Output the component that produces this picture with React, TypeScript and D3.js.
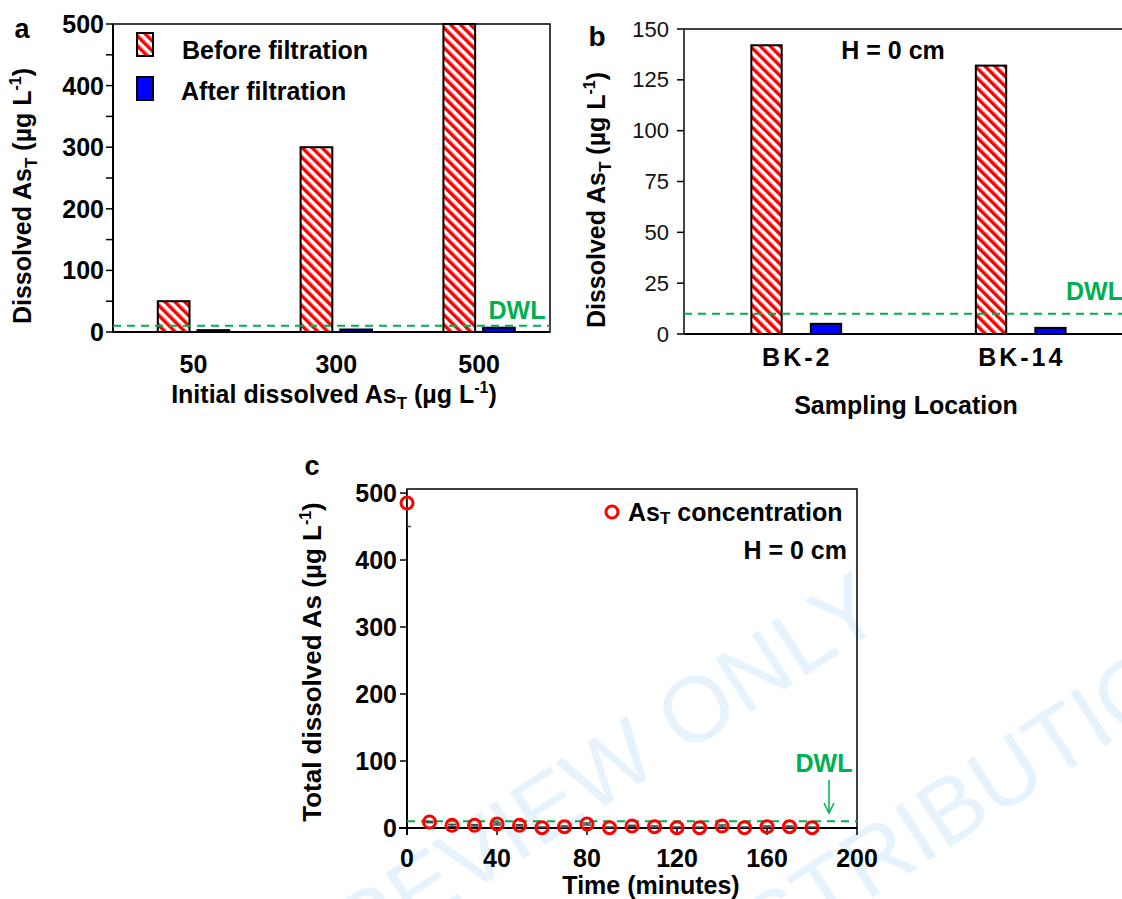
import * as d3 from 'd3';

// panel a
const aCategories = ['50', '300', '500'];
const aBefore = [50, 300, 500];
const aAfter = [3, 4, 7];
const aTicks = [0, 100, 200, 300, 400, 500];
const aMinor = [50, 150, 250, 350, 450];

// panel b
const bCategories = ['BK-2', 'BK-14'];
const bBefore = [142, 132];
const bAfter = [5, 3];
const bTicks = [0, 25, 50, 75, 100, 125, 150];

// panel c
const cTime = [0, 10, 20, 30, 40, 50, 60, 70, 80, 90, 100, 110, 120, 130, 140, 150, 160, 170, 180];
const cConc = [485, 9, 4, 4, 6, 4, 0.5, 2, 6, 0.5, 3, 2, 0.5, 0.5, 3, 0.5, 2, 2, 0.5];
const cErr = [35, 1, 1.5, 1, 1.5, 1, 1, 1, 1.5, 1, 1, 1, 1, 1, 1.5, 1, 1, 1, 1];
const cYTicks = [0, 100, 200, 300, 400, 500];
const cXTicks = [0, 40, 80, 120, 160, 200];

const DWL = 10;

const FONT = '"Liberation Sans", Arial, sans-serif';
const RED = '#ff0000';
const BLUE = '#0000ff';
const GREEN = '#00b050';
const FS = 25;

function Unit() {
  return (
    <>
      <tspan> (µg L</tspan>
      <tspan dy={-10} fontSize={16}>-1</tspan>
      <tspan dy={10}>)</tspan>
    </>
  );
}

function AsT() {
  return (
    <>
      <tspan>As</tspan>
      <tspan dy={6} fontSize={17}>T</tspan>
      <tspan dy={-6}> (µg L</tspan>
      <tspan dy={-10} fontSize={16}>-1</tspan>
      <tspan dy={10}>)</tspan>
    </>
  );
}

function PanelA() {
  const x0 = d3.scaleBand().domain(aCategories).range([113, 550]).paddingInner(0.5).paddingOuter(0.28).align(0.56);
  const x1 = d3.scaleBand().domain(['before', 'after']).range([0, x0.bandwidth()]).paddingInner(0.2);
  const y = d3.scaleLinear().domain([0, 500]).range([332, 24]);
  return (
    <g>
      {aCategories.map((c, i) => (
        <g key={c} transform={`translate(${x0(c)},0)`}>
          <rect x={x1('before')} y={y(aBefore[i])} width={x1.bandwidth()} height={y(0) - y(aBefore[i])}
            fill="url(#hatch)" stroke="#000" strokeWidth={2} />
          <rect x={x1('after')} y={y(aAfter[i])} width={x1.bandwidth()} height={y(0) - y(aAfter[i])}
            fill={BLUE} stroke="#000" strokeWidth={2} />
        </g>
      ))}
      <rect x={113} y={24} width={437} height={308} fill="none" stroke="#000" strokeWidth={1.5} />
      <line x1={113} x2={550} y1={y(0)} y2={y(0)} stroke="#000" strokeWidth={2} />
      <line x1={113} x2={113} y1={24} y2={332} stroke="#000" strokeWidth={2} />
      <line x1={113} x2={550} y1={y(DWL)} y2={y(DWL)} stroke={GREEN} strokeWidth={2} strokeDasharray="8,6" />
      <text x={517} y={310} fill={GREEN} fontSize={FS} fontWeight="bold" textAnchor="middle" dominantBaseline="central">DWL</text>
      {aTicks.concat(aMinor).map((t) => (
        <line key={t} x1={106} x2={113} y1={y(t)} y2={y(t)} stroke="#000" strokeWidth={1.5} />
      ))}
      {aTicks.map((t) => (
        <text key={t} x={104} y={y(t)} textAnchor="end" dominantBaseline="central" fontSize={FS} fontWeight="bold">{t}</text>
      ))}
      {aCategories.map((c) => (
        <text key={c} x={(x0(c) as number) + x0.bandwidth() / 2} y={364} textAnchor="middle" dominantBaseline="central"
          fontSize={FS} fontWeight="bold">{c}</text>
      ))}
      <text x={334} y={403} textAnchor="middle" fontSize={FS} fontWeight="bold">
        <tspan>Initial dissolved </tspan>
        <AsT />
      </text>
      <text transform="translate(31,196) rotate(-90)" textAnchor="middle" fontSize={FS} fontWeight="bold">
        <tspan>Dissolved </tspan>
        <AsT />
      </text>
      <text x={22} y={29} textAnchor="middle" dominantBaseline="central" fontSize={27} fontWeight="bold">a</text>
      {/* legend */}
      <rect x={137} y={33} width={16} height={23} fill="url(#hatch)" stroke="#000" strokeWidth={2} />
      <rect x={137} y={77} width={16} height={23} fill={BLUE} stroke="#000" strokeWidth={2} />
      <text x={182} y={50} dominantBaseline="central" fontSize={FS} fontWeight="bold">Before filtration</text>
      <text x={181} y={91} dominantBaseline="central" fontSize={FS} fontWeight="bold">After filtration</text>
    </g>
  );
}

function PanelB() {
  const x0 = d3.scaleBand().domain(bCategories).range([684, 1133]).paddingInner(0.6).paddingOuter(0.3);
  const x1 = d3.scaleBand().domain(['before', 'after']).range([0, x0.bandwidth()]).paddingInner(0.49);
  const y = d3.scaleLinear().domain([0, 150]).range([334, 29]);
  return (
    <g>
      {bCategories.map((c, i) => (
        <g key={c} transform={`translate(${x0(c)},0)`}>
          <rect x={x1('before')} y={y(bBefore[i])} width={x1.bandwidth()} height={y(0) - y(bBefore[i])}
            fill="url(#hatch)" stroke="#000" strokeWidth={2} />
          <rect x={x1('after')} y={y(bAfter[i])} width={x1.bandwidth()} height={y(0) - y(bAfter[i])}
            fill={BLUE} stroke="#000" strokeWidth={2} />
        </g>
      ))}
      <line x1={684} x2={1122} y1={y(150)} y2={y(150)} stroke="#000" strokeWidth={1.5} />
      <line x1={684} x2={1122} y1={y(0)} y2={y(0)} stroke="#000" strokeWidth={2} />
      <line x1={684} x2={684} y1={y(150)} y2={y(0)} stroke="#444" strokeWidth={2} />
      <line x1={684} x2={1122} y1={y(DWL)} y2={y(DWL)} stroke={GREEN} strokeWidth={2} strokeDasharray="8,6" />
      <text x={1066} y={291} fill={GREEN} fontSize={FS} fontWeight="bold" dominantBaseline="central">DWL</text>
      {bTicks.map((t) => (
        <g key={t}>
          <line x1={677} x2={684} y1={y(t)} y2={y(t)} stroke="#000" strokeWidth={1.5} />
          <text x={669} y={y(t)} textAnchor="end" dominantBaseline="central" fontSize={22} fill="#111">{t}</text>
        </g>
      ))}
      {bCategories.map((c) => (
        <text key={c} x={(x0(c) as number) + x0.bandwidth() / 2 + 1} y={357} textAnchor="middle" dominantBaseline="central"
          fontSize={FS} fontWeight="bold" letterSpacing={3}>{c}</text>
      ))}
      <text x={906} y={405} textAnchor="middle" dominantBaseline="central" fontSize={FS} fontWeight="bold">Sampling Location</text>
      <text transform="translate(605,200) rotate(-90)" textAnchor="middle" fontSize={FS} fontWeight="bold">
        <tspan>Dissolved </tspan>
        <AsT />
      </text>
      <text x={893} y={50} textAnchor="middle" dominantBaseline="central" fontSize={FS} fontWeight="bold">H = 0 cm</text>
      <text x={597} y={36} textAnchor="middle" dominantBaseline="central" fontSize={28} fontWeight="bold">b</text>
    </g>
  );
}

function PanelC() {
  const x = d3.scaleLinear().domain([0, 200]).range([407, 857]);
  const y = d3.scaleLinear().domain([0, 506]).range([828, 489]);
  return (
    <g>
      <defs>
        <clipPath id="clipC">
          <rect x={x(0)} y={y(506)} width={x(200) - x(0)} height={y(0) - y(506)} />
        </clipPath>
      </defs>
      <rect x={x(0)} y={y(506)} width={x(200) - x(0)} height={y(0) - y(506)} fill="none" stroke="#000" strokeWidth={1.5} />
      <line x1={x(0) - 8} x2={x(200)} y1={y(0)} y2={y(0)} stroke="#000" strokeWidth={2} />
      <line x1={x(0)} x2={x(0)} y1={y(506)} y2={y(0) + 7} stroke="#000" strokeWidth={2} />
      {cYTicks.map((t) => (
        <g key={t}>
          <line x1={x(0) - 7} x2={x(0)} y1={y(t)} y2={y(t)} stroke="#000" strokeWidth={1.5} />
          <text x={x(0) - 10} y={y(t)} textAnchor="end" dominantBaseline="central" fontSize={FS} fontWeight="bold">{t}</text>
        </g>
      ))}
      {cXTicks.map((t) => (
        <g key={t}>
          <line x1={x(t)} x2={x(t)} y1={y(0)} y2={y(0) + 7} stroke="#000" strokeWidth={1.5} />
          <text x={x(t)} y={858} textAnchor="middle" dominantBaseline="central" fontSize={FS} fontWeight="bold">{t}</text>
        </g>
      ))}
      <line x1={x(0)} x2={x(200)} y1={y(DWL)} y2={y(DWL)} stroke={GREEN} strokeWidth={2} strokeDasharray="8,6" />
      <g clipPath="url(#clipC)">
        {cTime.map((t, i) => (
          <g key={t} stroke="#444" strokeWidth={1.5}>
            <line x1={x(t)} x2={x(t)} y1={y(cConc[i] - cErr[i])} y2={y(cConc[i] + cErr[i])} />
            <line x1={x(t) - 4} x2={x(t) + 4} y1={y(cConc[i] - cErr[i])} y2={y(cConc[i] - cErr[i])} />
            <line x1={x(t) - 4} x2={x(t) + 4} y1={y(cConc[i] + cErr[i])} y2={y(cConc[i] + cErr[i])} />
          </g>
        ))}
      </g>
      {cTime.map((t, i) => (
        <circle key={t} cx={x(t)} cy={y(cConc[i])} r={6} fill="none" stroke={RED} strokeWidth={3} />
      ))}
      <circle cx={612} cy={512} r={6} fill="none" stroke={RED} strokeWidth={3} />
      <text x={628} y={512} dominantBaseline="central" fontSize={FS} fontWeight="bold">
        <tspan>As</tspan>
        <tspan dy={6} fontSize={17}>T</tspan>
        <tspan dy={-6}> concentration</tspan>
      </text>
      <text x={847} y={550} textAnchor="end" dominantBaseline="central" fontSize={FS} fontWeight="bold">H = 0 cm</text>
      <text x={824} y={763} textAnchor="middle" dominantBaseline="central" fill={GREEN} fontSize={FS} fontWeight="bold">DWL</text>
      <line x1={829} x2={829} y1={780} y2={812} stroke={GREEN} strokeWidth={1.5} />
      <path d="M824,803 L829,813 L834,803" fill="none" stroke={GREEN} strokeWidth={1.5} />
      <text x={651} y={885} textAnchor="middle" dominantBaseline="central" fontSize={FS} fontWeight="bold">Time (minutes)</text>
      <text transform="translate(321,662) rotate(-90)" textAnchor="middle" fontSize={26} fontWeight="bold">
        <tspan>Total dissolved As</tspan>
        <Unit />
      </text>
      <text x={312} y={466} textAnchor="middle" dominantBaseline="central" fontSize={27} fontWeight="bold">c</text>
    </g>
  );
}

export default function App() {
  return (
    <svg width={1122} height={899} style={{ position: 'absolute', left: 0, top: 0, background: '#fff' }}
      fontFamily={FONT}>
      <defs>
        <pattern id="hatch" patternUnits="userSpaceOnUse" width={7} height={7} patternTransform="rotate(-45)">
          <rect width={7} height={7} fill="#fff" />
          <rect width={3.5} height={7} fill={RED} />
        </pattern>
      </defs>
      <rect width={1122} height={899} fill="#fff" />
      {/* watermark */}
      <g fill="#e6f3fc" fontSize={92} fontFamily={FONT}>
        <text transform="translate(888,622) rotate(-33)" textAnchor="end">FOR PEER REVIEW ONLY</text>
        <text transform="translate(1235,662) rotate(-33)" textAnchor="end">NOT FOR DISTRIBUTION</text>
      </g>
      <PanelA />
      <PanelB />
      <PanelC />
    </svg>
  );
}
